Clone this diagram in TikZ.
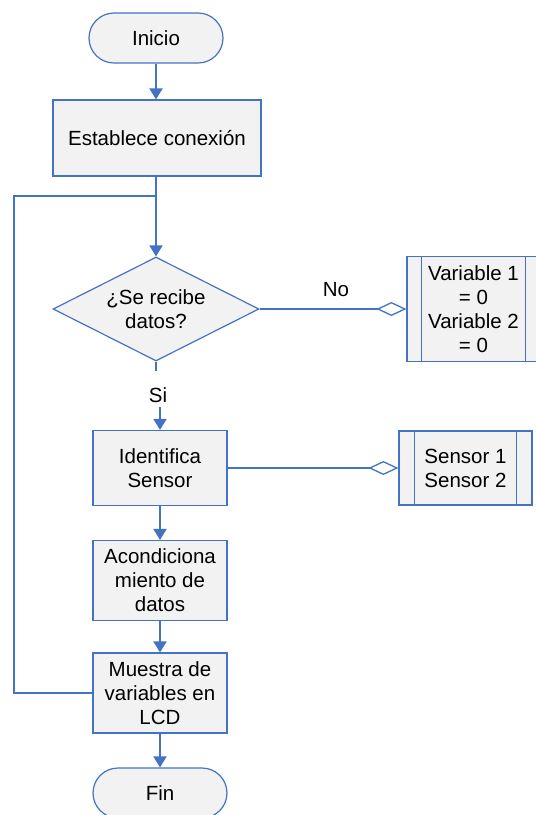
\documentclass[tikz,border=0pt]{standalone}
\usepackage{fontspec}
\setmainfont{Liberation Sans}
\usetikzlibrary{arrows.meta,shapes.geometric}
\definecolor{flowblue}{HTML}{4472C4}
\definecolor{boxfill}{HTML}{F2F2F2}

\begin{document}
\begin{tikzpicture}[x=1pt,y=-1pt,
  every node/.style={font=\fontsize{20.5}{24}\selectfont, text=black},
  base/.style={draw=flowblue, fill=boxfill, line width=1.2pt, align=center, inner sep=0pt},
  terminal/.style={base, rectangle, rounded corners=25pt, minimum width=134pt, minimum height=50pt},
  procbox/.style={base, rectangle, minimum width=134pt},
  decision/.style={base, diamond, aspect=2, minimum width=206pt, minimum height=104pt},
  subproc/.style={base, rectangle},
  subline/.style={draw=flowblue, line width=1.2pt},
  flowline/.style={draw=flowblue, line width=2pt},
  flow/.style={flowline, -{Triangle[width=13pt,length=11pt]}},
  loopline/.style={draw=flowblue, line width=1.6pt},
  link/.style={draw=flowblue, line width=1.3pt, -{Diamond[open,width=14pt,length=30pt]}},
]
\useasboundingbox (0,0) rectangle (536,815);
\clip (0,0) rectangle (536,815);

% main column
\node[terminal] (inicio) at (156,38) {Inicio};
\node[procbox, minimum width=208pt, minimum height=76pt] (conn) at (157,138) {Establece conexión};
\node[decision] (dec) at (156,309) {¿Se recibe\\datos?};
\node[anchor=base, inner sep=1pt] (si) at (158,402) {Si};
\node[procbox, minimum height=75pt] (ident) at (160,468) {Identifica\\Sensor};
\node[procbox, minimum height=80pt] (acond) at (160,580.5) {Acondiciona\\miento de\\datos};
\node[procbox, minimum height=80pt] (muestra) at (160,693) {Muestra de\\variables en\\LCD};
\node[terminal] (fin) at (160,793) {Fin};

% side sub-processes
\node[subproc, minimum width=133pt, minimum height=105pt] (vars) at (473.5,309) {Variable 1\\= 0\\Variable 2\\= 0};
\draw[subline] ([xshift=15pt]vars.north west) -- ([xshift=15pt]vars.south west);
\draw[subline] ([xshift=-15pt]vars.north east) -- ([xshift=-15pt]vars.south east);
\node[subproc, minimum width=133pt, minimum height=74pt] (sens) at (465.5,468) {Sensor 1\\Sensor 2};
\draw[subline] ([xshift=16pt]sens.north west) -- ([xshift=16pt]sens.south west);
\draw[subline] ([xshift=-16pt]sens.north east) -- ([xshift=-16pt]sens.south east);
\node[anchor=base] (no) at (336,296) {No};

% helper points
\coordinate (siTop) at (156,371);
\coordinate (siBot) at (160,407);
\coordinate (loopCorner) at (14,196);
\coordinate (loopJoin) at (156,196);

% flow connectors
\draw[flow] (inicio.south) -- (inicio.south |- conn.north);
\draw[flow] (dec.north |- conn.south) -- (dec.north);
\draw[flowline] (dec.south) -- (siTop);
\draw[flow] (siBot) -- (ident.north);
\draw[flow] (ident.south) -- (acond.north);
\draw[flow] (acond.south) -- (muestra.north);
\draw[flow] (muestra.south) -- (fin.north);

% loop back to the decision
\draw[loopline] (muestra.west) -| (loopCorner) -- (loopJoin);

% links to sub-processes
\draw[link] (dec.east) -- (vars.west);
\draw[link] (ident.east) -- (sens.west);
\end{tikzpicture}
\end{document}
